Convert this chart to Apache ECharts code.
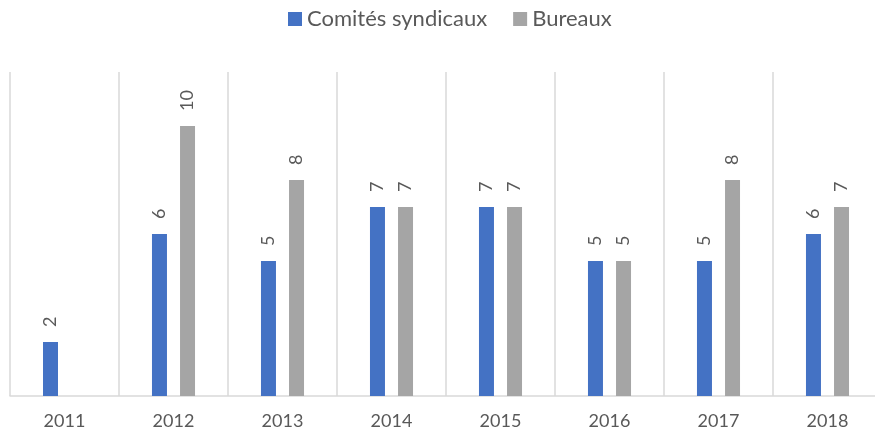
<!DOCTYPE html>
<html>
<head>
<meta charset="utf-8">
<script src="https://cdn.jsdelivr.net/npm/echarts@6/dist/echarts.min.js"></script>
<style>
  html, body { margin: 0; padding: 0; background: #fff; }
  #chart { width: 875px; height: 433px; }
</style>
</head>
<body>
<div id="chart"></div>
<script>
// Years shown on the category axis
const years = ['2011', '2012', '2013', '2014', '2015', '2016', '2017', '2018'];
// Number of union committees per year
const comites = [2, 6, 5, 7, 7, 5, 5, 6];
// Number of offices per year (none in 2011)
const bureaux = [null, 10, 8, 7, 7, 5, 8, 7];

const textColor = '#595959';
const labelStyle = {
  show: true,
  position: 'top',
  rotate: 90,
  align: 'left',
  verticalAlign: 'middle',
  distance: 15,
  color: textColor,
  fontSize: 18,
  fontFamily: 'Lato'
};

const chart = echarts.init(document.getElementById('chart'), null, { renderer: 'canvas' });
chart.setOption({
  animation: false,
  backgroundColor: '#ffffff',
  textStyle: { fontFamily: 'Lato' },
  legend: {
    top: 8,
    left: 288,
    padding: 0,
    itemWidth: 14,
    itemHeight: 14,
    itemGap: 26,
    icon: 'rect',
    textStyle: { color: textColor, fontSize: 22, fontFamily: 'Lato' },
    data: ['Comités syndicaux', 'Bureaux']
  },
  grid: { left: 10, top: 72, right: -7, bottom: 37, containLabel: false, outerBoundsMode: 'none' },
  xAxis: {
    type: 'category',
    data: years,
    boundaryGap: true,
    axisLine: { show: true, lineStyle: { color: '#D9D9D9', width: 1.5 } },
    axisTick: { show: false },
    splitLine: { show: true, interval: 0, lineStyle: { color: '#D9D9D9', width: 1.5 } },
    axisLabel: { color: textColor, fontSize: 18, margin: 16, fontFamily: 'Lato' }
  },
  yAxis: {
    type: 'value',
    min: 0,
    max: 12,
    interval: 2,
    show: false,
    splitLine: { show: false }
  },
  series: [
    {
      name: 'Comités syndicaux',
      type: 'bar',
      data: comites,
      barWidth: 15,
      barGap: '87%',
      itemStyle: { color: '#4472C4' },
      label: labelStyle
    },
    {
      name: 'Bureaux',
      type: 'bar',
      data: bureaux,
      barWidth: 15,
      itemStyle: { color: '#A5A5A5' },
      label: labelStyle
    }
  ]
});
</script>
</body>
</html>
